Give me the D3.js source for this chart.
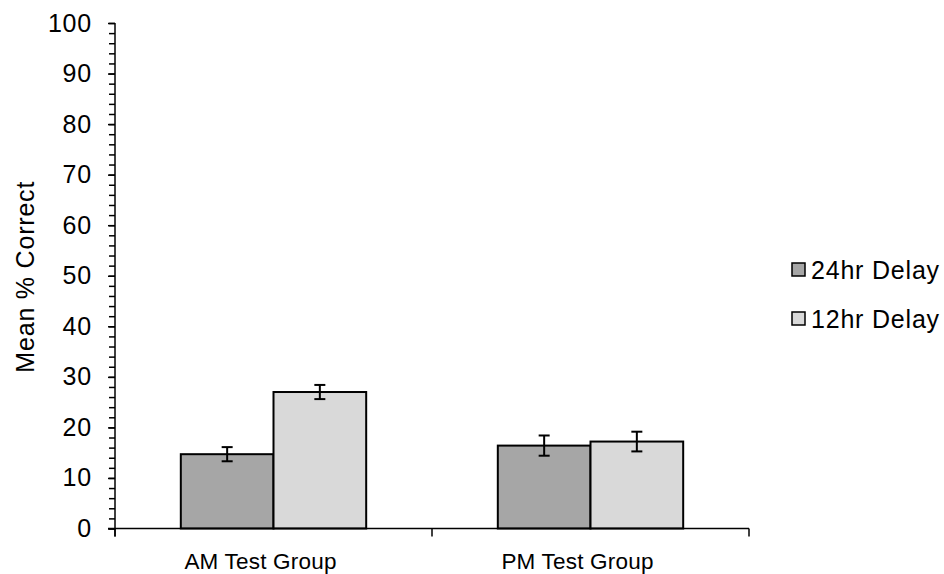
<!DOCTYPE html>
<html>
<head>
<meta charset="utf-8">
<script src="https://cdn.jsdelivr.net/npm/d3@7"></script>
<style>
  html, body { margin: 0; padding: 0; background: #fff; }
  svg text { font-family: "Liberation Sans", Arial, sans-serif; fill: #000; }
</style>
</head>
<body>
<svg id="chart" width="944" height="574"></svg>
<script>
// Group categories and delay conditions
const groups = ["AM Test Group", "PM Test Group"];
const seriesNames = ["24hr Delay", "12hr Delay"];
const seriesColors = ["#a6a6a6", "#d9d9d9"];

// Mean % correct per group, one array per delay condition
const delay24 = [14.7, 16.4];
const delay12 = [27.0, 17.2];

// Error bar half-widths (±)
const err24 = [1.4, 2.0];
const err12 = [1.4, 1.95];

const yTicks = [0, 10, 20, 30, 40, 50, 60, 70, 80, 90, 100];
const yMinorTicks = d3.range(0, 101, 2);

const svg = d3.select("#chart");
const plotLeft = 115, plotRight = 749, plotTop = 23, plotBottom = 528.5;
const fontSize = 25, spacing = 0.8;

const x = d3.scaleBand().domain(groups).range([plotLeft, plotRight]).paddingInner(0).paddingOuter(0);
const xInner = d3.scaleBand().domain(seriesNames).range([0, x.bandwidth()]).paddingOuter(0.71).paddingInner(0);
const y = d3.scaleLinear().domain([0, 100]).range([plotBottom, plotTop]);

const values = [delay24, delay12];
const errs = [err24, err12];

const rows = [];
groups.forEach((g, gi) => {
  seriesNames.forEach((s, si) => {
    rows.push({ group: g, series: s, si, value: values[si][gi], err: errs[si][gi] });
  });
});

// Bars
svg.append("g").selectAll("rect").data(rows).join("rect")
  .attr("x", d => x(d.group) + xInner(d.series))
  .attr("y", d => y(d.value))
  .attr("width", xInner.bandwidth())
  .attr("height", d => y(0) - y(d.value))
  .attr("fill", d => seriesColors[d.si])
  .attr("stroke", "#000")
  .attr("stroke-width", 2);

// Error bars
const eb = svg.append("g").attr("stroke", "#000").attr("stroke-width", 2);
rows.forEach(d => {
  const cx = x(d.group) + xInner(d.series) + xInner.bandwidth() / 2;
  const capW = 5.5;
  eb.append("line").attr("x1", cx).attr("x2", cx).attr("y1", y(d.value + d.err)).attr("y2", y(d.value - d.err));
  eb.append("line").attr("x1", cx - capW).attr("x2", cx + capW).attr("y1", y(d.value + d.err)).attr("y2", y(d.value + d.err));
  eb.append("line").attr("x1", cx - capW).attr("x2", cx + capW).attr("y1", y(d.value - d.err)).attr("y2", y(d.value - d.err));
});

// Y axis: minor ticks, then major ticks with labels
const yAxisMinor = d3.axisLeft(y).tickValues(yMinorTicks).tickSize(6).tickFormat("");
svg.append("g").attr("transform", `translate(${plotLeft},0)`).call(yAxisMinor)
  .call(g => g.select(".domain").remove())
  .call(g => g.selectAll("line").attr("stroke", "#000").attr("stroke-width", 1.5));

const yAxis = d3.axisLeft(y).tickValues(yTicks).tickSize(7).tickPadding(16).tickFormat(d3.format("d"));
svg.append("g").attr("transform", `translate(${plotLeft},0)`).call(yAxis)
  .call(g => g.select(".domain").remove())
  .call(g => g.selectAll("line").attr("stroke", "#000").attr("stroke-width", 1.5))
  .call(g => g.selectAll("text")
    .attr("font-size", fontSize)
    .attr("letter-spacing", spacing)
    .attr("font-family", "Liberation Sans, Arial, sans-serif")
    .attr("fill", "#000"));

svg.append("line").attr("x1", plotLeft).attr("x2", plotLeft).attr("y1", plotTop).attr("y2", plotBottom + 8)
  .attr("stroke", "#000").attr("stroke-width", 1.5);

// X axis with boundary ticks between groups
svg.append("line").attr("x1", plotLeft - 7).attr("x2", plotRight).attr("y1", plotBottom).attr("y2", plotBottom)
  .attr("stroke", "#000").attr("stroke-width", 1.5);
const xBounds = [x(groups[0]), x(groups[1]), x(groups[1]) + x.bandwidth()];
svg.append("g").selectAll("line").data(xBounds).join("line")
  .attr("x1", d => d).attr("x2", d => d).attr("y1", plotBottom).attr("y2", plotBottom + 8)
  .attr("stroke", "#000").attr("stroke-width", 1.5);

svg.append("g").selectAll("text").data(groups).join("text")
  .attr("x", d => x(d) + x.bandwidth() / 2 - 13)
  .attr("y", 569)
  .attr("text-anchor", "middle")
  .attr("font-size", 22.5)
  .attr("letter-spacing", 0.2)
  .text(d => d);

// Y axis title
svg.append("text")
  .attr("transform", `translate(34,${(plotTop + plotBottom) / 2 + 1}) rotate(-90)`)
  .attr("text-anchor", "middle")
  .attr("font-size", fontSize)
  .attr("letter-spacing", spacing)
  .text("Mean % Correct");

// Legend
const legend = svg.append("g").selectAll("g").data(seriesNames).join("g")
  .attr("transform", (d, i) => `translate(792,${279 + i * 49})`);
legend.append("rect").attr("y", -16).attr("width", 13).attr("height", 13)
  .attr("fill", (d, i) => seriesColors[i]).attr("stroke", "#000").attr("stroke-width", 1.5);
legend.append("text").attr("x", 19).attr("y", 0)
  .attr("font-size", fontSize).attr("letter-spacing", spacing).text(d => d);
</script>
</body>
</html>
